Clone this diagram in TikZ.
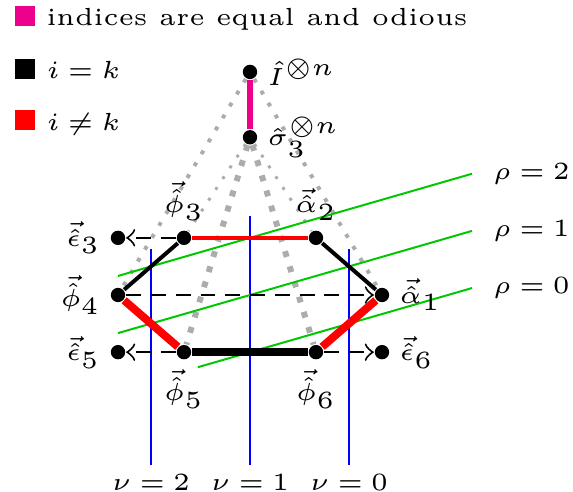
\documentclass[tikz,border=0pt]{standalone}
\usepackage{amsmath,amssymb}
\usetikzlibrary{positioning}

\definecolor{oddpink}{RGB}{236,0,140}
\definecolor{rhogreen}{RGB}{0,200,0}

\newcommand{\legendsq}[1]{\textcolor{#1}{\rule{4pt}{4pt}}}

\begin{document}
\thickmuskip=4mu
\begin{tikzpicture}[
    x=0.468cm, y=0.468cm,
    >=to,
    every node/.style={font=\tiny, inner sep=1.67pt},
    dot/.style={circle, fill=black, inner sep=0pt, minimum size=2.9pt},
    keytxt/.style={anchor=base west, inner sep=0pt},
    outerdots/.style={draw=gray!65, thick, dotted},
    finedots/.style={draw=gray!65, semithick, dotted},
    fatdots/.style={draw=gray!65, very thick, dotted},
    nuline/.style={blue, line width=0.4pt},
    rholine/.style={rhogreen, line width=0.4pt},
    flow/.style={->, densely dashed, line width=0.4pt},
    edgethin/.style={thick},
    edgefat/.style={ultra thick}
]
\useasboundingbox (-3.788,-2.970) rectangle (4.894,4.470);
% Key
\node[keytxt] (keyodd) at (-3.576, 4.076) {\legendsq{oddpink} indices are equal and odious};
\node[keytxt] (keyeq)  at (-3.576, 3.273) {\legendsq{black} $i = k$};
\node[keytxt] (keyne)  at (-3.576, 2.5)   {\legendsq{red} $i \neq k$};
% Operators on top
\node[dot] (idn) at (0, 3.38) {};
\node[dot] (sig) at (0, 2.39) {};
% Hexagon and outer points
\node[dot] (phi3)   at (-1,  0.866) {};
\node[dot] (alpha2) at ( 1,  0.866) {};
\node[dot] (eps3)   at (-2,  0.866) {};
\node[dot] (phi4)   at (-2,  0)     {};
\node[dot] (alpha1) at ( 2,  0)     {};
\node[dot] (eps5)   at (-2, -0.866) {};
\node[dot] (phi5)   at (-1, -0.866) {};
\node[dot] (phi6)   at ( 1, -0.866) {};
\node[dot] (eps6)   at ( 2, -0.866) {};
% Grey dotted links
\draw[outerdots] (idn) -- (phi4);
\draw[outerdots] (idn) -- (alpha1);
\draw[finedots] (sig) -- (phi3);
\draw[finedots] (sig) -- (alpha2);
\draw[fatdots] (sig) -- (phi5);
\draw[fatdots] (sig) -- (phi6);
% nu lines
\foreach \x/\yt/\v in {-1.5/0.7/2, 0/1.2/1, 1.5/0.7/0} {
  \draw[nuline] (\x, \yt) -- (\x, -2.58) coordinate (nu\v);
  \node[below=0pt of nu\v] (lnu\v) {$\nu = \v$};
}
% rho lines
\foreach \xs/\yo/\r in {-2/0.866/2, -2/0/1, -0.79/-0.866/0} {
  \draw[rholine] (\xs, {\yo+0.2887*\xs}) -- (3.364, {\yo+0.2887*3.364}) coordinate (rho\r);
  \node[right=2.4pt of rho\r] (lrho\r) {$\rho = \r$};
}
% Dashed arrows
\draw[flow] (phi3) -- (eps3);
\draw[flow] (phi4) -- (alpha1);
\draw[flow] (phi5) -- (eps5);
\draw[flow] (phi6) -- (eps6);
% Hexagon edges
\draw[red, edgethin] (phi3) -- (alpha2);
\draw[edgethin] (alpha2) -- (alpha1);
\draw[edgethin] (phi3) -- (phi4);
\draw[red, edgefat] (phi4) -- (phi5);
\draw[edgefat] (phi5) -- (phi6);
\draw[red, edgefat] (phi6) -- (alpha1);
\draw[oddpink, very thick] (idn) -- (sig);
% Labels
\node[right=0pt of idn] (lidn) {$\hat{I}^{\otimes n}$};
\node[right=0pt of sig] (lsig) {$\hat{\sigma}_3^{\otimes n}$};
\node[above=0pt of phi3] (lphi3) {$\vec{\hat{\phi}}_3$};
\node[above=0pt of alpha2] (lalpha2) {$\vec{\hat{\alpha}}_2$};
\node[left=0pt of eps3] (leps3) {$\vec{\hat{\epsilon}}_3$};
\node[left=0pt of phi4] (lphi4) {$\vec{\hat{\phi}}_4$};
\node[right=0pt of alpha1] (lalpha1) {$\vec{\hat{\alpha}}_1$};
\node[left=0pt of eps5] (leps5) {$\vec{\hat{\epsilon}}_5$};
\node[below=0pt of phi5] (lphi5) {$\vec{\hat{\phi}}_5$};
\node[below=0pt of phi6] (lphi6) {$\vec{\hat{\phi}}_6$};
\node[right=0pt of eps6] (leps6) {$\vec{\hat{\epsilon}}_6$};
\end{tikzpicture}
\end{document}
